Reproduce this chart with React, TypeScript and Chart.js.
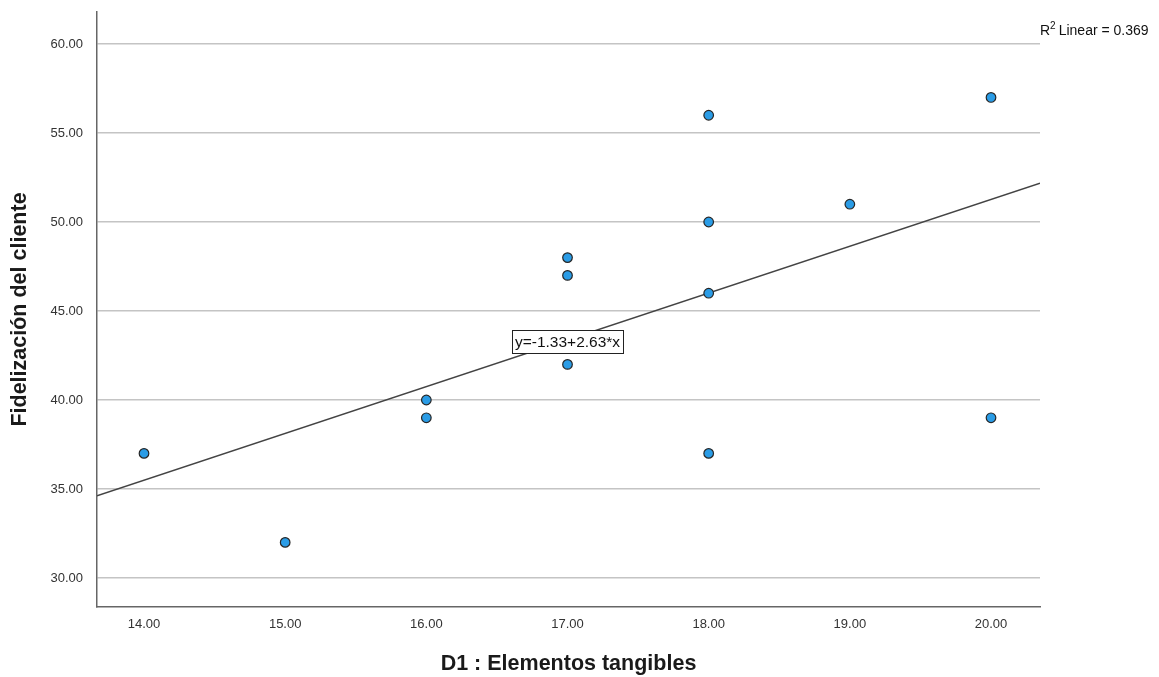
import React, { useEffect, useRef } from "react";
import { Chart, registerables } from "chart.js";

Chart.register(...registerables);

const xValues = [14, 15, 16, 16, 17, 17, 17, 18, 18, 18, 18, 19, 20, 20];
const yValues = [37, 32, 40, 39, 48, 47, 42, 56, 50, 46, 37, 51, 57, 39];
const xTicks = [14, 15, 16, 17, 18, 19, 20];
const yTicks = [30, 35, 40, 45, 50, 55, 60];
const intercept = -1.33;
const slope = 2.63;
const xMin = 13.667;
const xMax = 20.347;
const yMin = 28.37;
const yMax = 61.8;
const equationText = "y=-1.33+2.63*x";
const equationAt = { x: 17, y: 43.26 };
const r2Text = "0.369";

const FONT = "Arial, 'Liberation Sans', sans-serif";

const overlayPlugin = {
  id: "overlay",
  afterDatasetsDraw(chart: any) {
    const ctx = chart.ctx;
    const xs = chart.scales.x;
    const ys = chart.scales.y;
    const cx = xs.getPixelForValue(equationAt.x);
    const cy = ys.getPixelForValue(equationAt.y);
    ctx.save();
    ctx.font = "15.5px " + FONT;
    const w = ctx.measureText(equationText).width + 6;
    const h = 23;
    ctx.fillStyle = "#ffffff";
    ctx.fillRect(cx - w / 2, cy - h / 2, w, h);
    ctx.strokeStyle = "#222222";
    ctx.lineWidth = 1;
    ctx.strokeRect(Math.round(cx - w / 2) + 0.5, Math.round(cy - h / 2) + 0.5, Math.round(w), h);
    ctx.fillStyle = "#111111";
    ctx.textAlign = "center";
    ctx.textBaseline = "middle";
    ctx.fillText(equationText, cx, cy + 1);
    ctx.textAlign = "left";
    ctx.textBaseline = "alphabetic";
    ctx.font = "14px " + FONT;
    let x = 1040;
    const y = 35;
    ctx.fillText("R", x, y);
    x += ctx.measureText("R").width;
    ctx.font = "10px " + FONT;
    ctx.fillText("2", x, y - 6);
    x += ctx.measureText("2").width + 3;
    ctx.font = "14px " + FONT;
    ctx.fillText("Linear = " + r2Text, x, y);
    ctx.restore();
  },
};

export default function App() {
  const ref = useRef<HTMLCanvasElement | null>(null);
  useEffect(() => {
    if (!ref.current) return;
    const points = xValues.map((x, i) => ({ x, y: yValues[i] }));
    const line = [
      { x: xMin, y: intercept + slope * xMin },
      { x: xMax, y: intercept + slope * xMax },
    ];
    const chart = new Chart(ref.current, {
      type: "scatter",
      data: {
        datasets: [
          {
            type: "line" as any,
            data: line,
            borderColor: "#444444",
            borderWidth: 1.5,
            pointRadius: 0,
            fill: false,
            order: 2,
          } as any,
          {
            data: points,
            backgroundColor: "#2a9ce6",
            borderColor: "#262626",
            borderWidth: 1.2,
            pointRadius: 4.8,
            order: 1,
          },
        ],
      },
      options: {
        animation: false,
        responsive: false,
        layout: { padding: { left: 0, right: 119, top: 12, bottom: 0 } },
        plugins: { legend: { display: false }, tooltip: { enabled: false } },
        scales: {
          x: {
            type: "linear",
            min: xMin,
            max: xMax,
            afterBuildTicks: (s: any) => {
              s.ticks = xTicks.map((v) => ({ value: v }));
            },
            afterFit: (s: any) => {
              s.height = 70;
              s.paddingLeft = 0;
              s.paddingRight = 0;
            },
            grid: { display: false, drawTicks: false },
            border: { display: true, color: "#666666", width: 1.5 },
            ticks: {
              padding: 10,
              color: "#333333",
              font: { family: FONT, size: 13 },
              callback: (v: any) => Number(v).toFixed(2),
            },
            title: {
              display: true,
              text: "D1 : Elementos tangibles",
              color: "#1a1a1a",
              font: { family: FONT, size: 21.5, weight: "bold" },
              padding: { top: 10, bottom: 0 },
            },
          },
          y: {
            type: "linear",
            min: yMin,
            max: yMax,
            afterBuildTicks: (s: any) => {
              s.ticks = yTicks.map((v) => ({ value: v }));
            },
            afterFit: (s: any) => {
              s.width = 97;
              s.paddingTop = 0;
              s.paddingBottom = 0;
            },
            grid: { display: true, drawTicks: false, color: "#c4c4c4", lineWidth: 1.5 },
            border: { display: true, color: "#666666", width: 1.5 },
            ticks: {
              padding: 14,
              color: "#333333",
              font: { family: FONT, size: 13 },
              callback: (v: any) => Number(v).toFixed(2),
            },
            title: {
              display: true,
              text: "Fidelización del cliente",
              color: "#1a1a1a",
              font: { family: FONT, size: 21.5, weight: "bold" },
              padding: { top: 7, bottom: 0 },
            },
          },
        },
      },
      plugins: [overlayPlugin],
    });
    return () => chart.destroy();
  }, []);
  return (
    <div style={{ position: "fixed", left: 0, top: 0, width: 1159, height: 677, background: "#fff" }}>
      <canvas ref={ref} width={1159} height={677} style={{ display: "block" }} />
    </div>
  );
}
